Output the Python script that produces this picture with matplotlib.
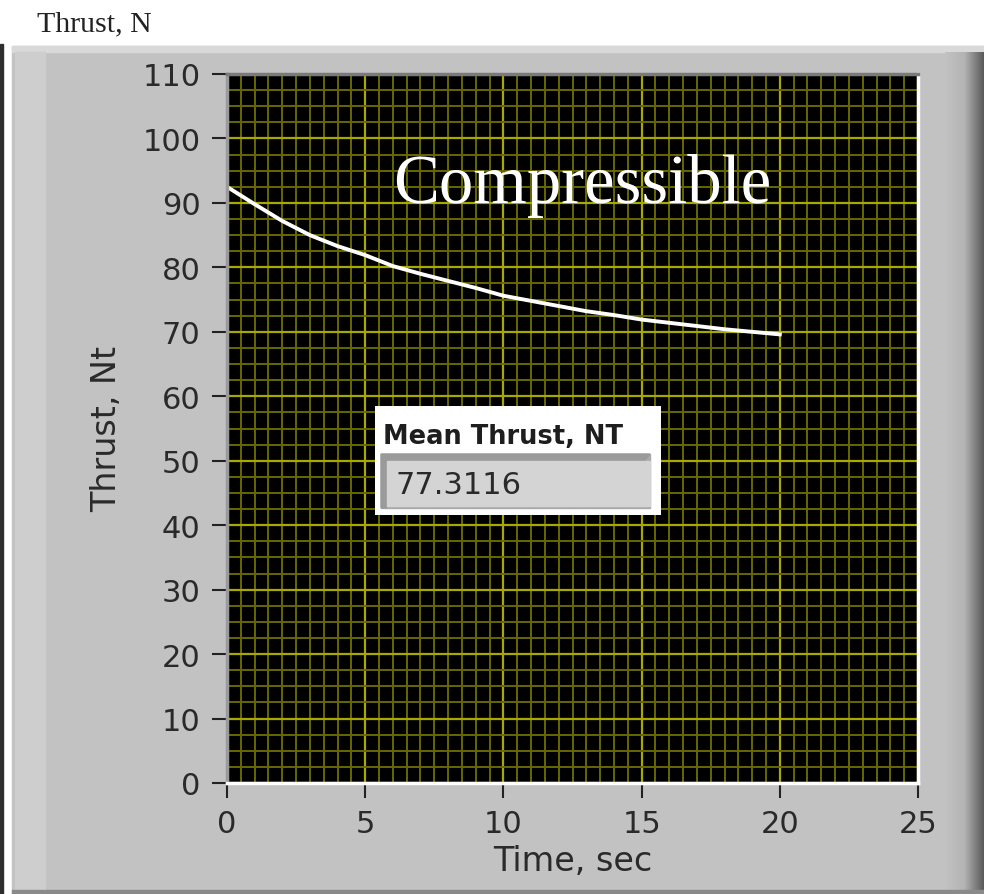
import numpy as np
import matplotlib.pyplot as plt
from matplotlib.colors import LinearSegmentedColormap
from matplotlib.patches import Rectangle, Polygon

# Thrust trace
time_s = [0, 0, 1, 2, 3, 4, 5, 6, 7, 8, 9, 10, 11, 12, 13, 14, 15, 16, 17, 18, 19, 20]
thrust_nt = [0, 92.5, 89.8, 87.2, 85.0, 83.3, 81.9, 80.2, 79.0, 77.9, 76.8, 75.6,
             74.8, 74.0, 73.2, 72.6, 71.9, 71.4, 70.9, 70.4, 70.0, 69.6]
mean_thrust = 77.3116

x_ticks = [0, 5, 10, 15, 20, 25]
y_ticks = [0, 10, 20, 30, 40, 50, 60, 70, 80, 90, 100, 110]

W, H = 984, 895
fig = plt.figure(figsize=(W / 100, H / 100), dpi=100, facecolor='white')

# panel background, drawn in pixel units
bg = fig.add_axes([0, 0, 1, 1])
bg.axis('off')
bg.add_patch(Rectangle((0, 45), 3, H - 45, color='#2e2e2e'))
bg.add_patch(Rectangle((12, 47), W - 12, H - 47, color='#c2c2c2'))
bg.add_patch(Rectangle((12, 47), W - 12, 6, color='#d9d9d9'))
bg.add_patch(Rectangle((15, 53), 30, H - 53, color='#cecece'))
edge_cmap = LinearSegmentedColormap.from_list('edge', ['#c2c2c2', '#b4b4b4', '#5a5a5a'])
bg.imshow(np.linspace(0, 1, 64)[None, :], cmap=edge_cmap, extent=(945, W, H, 53),
          aspect='auto', zorder=3)
bg.add_patch(Rectangle((12, H - 4), W - 12, 4, color='#8a8a8a', zorder=4))
bg.text(37, 31, 'Thrust, N', family='Liberation Serif', fontsize=21.5, color='#222222',
        va='baseline', ha='left')
bg.set_xlim(0, W)
bg.set_ylim(H, 0)

# graph area
ax = fig.add_axes([227 / W, 1 - 784 / H, 691 / W, 709 / H])
ax.set_facecolor('black')
ax.set_xlim(0, 25)
ax.set_ylim(0, 110)
ax.set_xticks(x_ticks)
ax.set_yticks(y_ticks)
ax.set_xticks(np.arange(0, 25.01, 0.5), minor=True)
ax.set_yticks(np.arange(0, 110.01, 2.5), minor=True)
ax.grid(which='minor', color='#686800', lw=1.4)
ax.grid(which='major', color='#a8a800', lw=1.6)
ax.set_axisbelow(True)
ax.tick_params(which='minor', length=0)
ax.tick_params(which='major', direction='out', length=11, width=1.5, color='#222222',
               labelsize=22, labelcolor='#2a2a2a', pad=8)
for side, c in [('top', '#7a7a7a'), ('left', '#9a9a9a'), ('bottom', 'white'), ('right', 'white')]:
    ax.spines[side].set_color(c)
    ax.spines[side].set_linewidth(2.5)

ax.plot(time_s, thrust_nt, color='white', lw=2.8, solid_joinstyle='miter')

ax.set_xlabel('Time, sec', fontsize=24, color='#2a2a2a', labelpad=4)
ax.set_ylabel('Thrust, Nt', fontsize=24, color='#2a2a2a', labelpad=14)

ax.text(6.0, 90.1, 'Compressible', family='Liberation Serif', fontsize=49.5,
        color='white', ha='left', va='baseline')

# mean thrust indicator
ind = fig.add_axes([375 / W, 1 - 516 / H, 286 / W, 109 / H])
ind.set_xlim(0, 286)
ind.set_ylim(109, 0)
ind.axis('off')
ind.add_patch(Rectangle((0, 0), 286, 109, color='white'))
ind.text(8, 37, 'Mean Thrust, NT', fontsize=18.5, fontweight='bold', color='#1e1e1e',
         va='baseline', ha='left')
ind.add_patch(Rectangle((6, 48), 269, 54, color='#a9a9a9'))
ind.add_patch(Polygon([(6, 48), (275, 48), (269, 55), (12, 55), (12, 102), (6, 102)],
                      closed=True, color='#9a9a9a'))
ind.add_patch(Rectangle((12, 55), 263, 45, color='#d4d4d4'))
ind.text(20, 79, f'{mean_thrust:.4f}', fontsize=22, color='#2a2a2a', va='center', ha='left')

fig.savefig('out.png', dpi=100, facecolor='white')
